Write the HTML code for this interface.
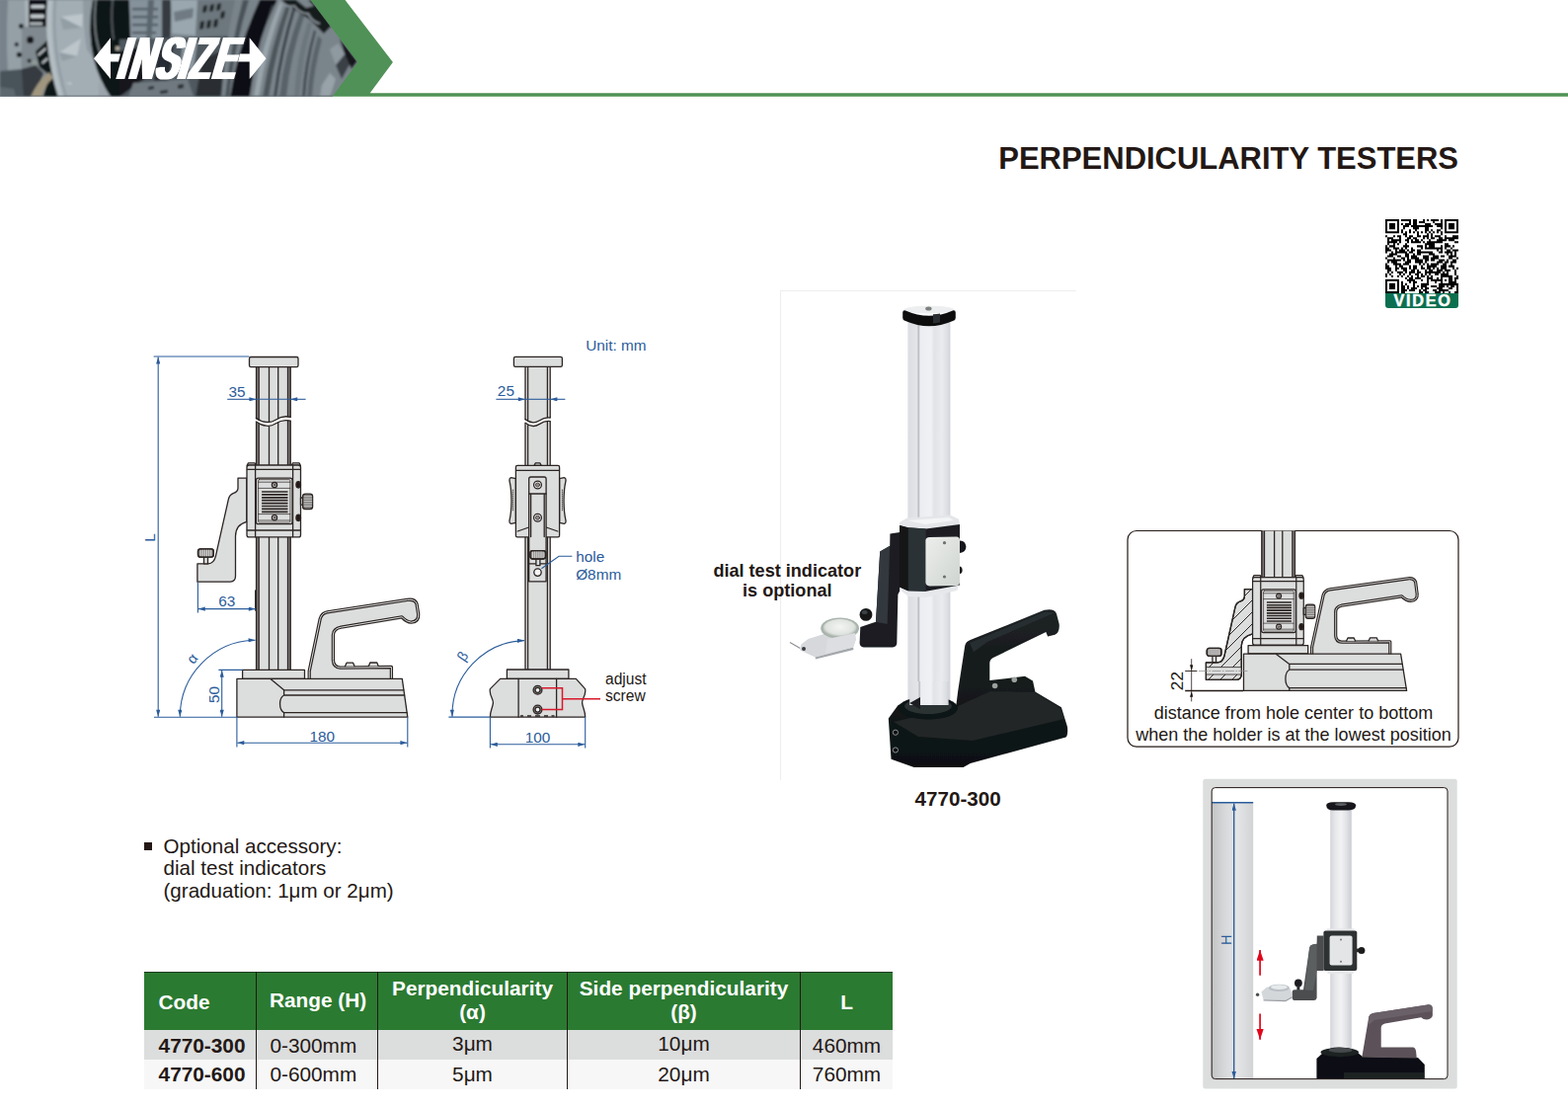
<!DOCTYPE html>
<html lang="en">
<head>
<meta charset="utf-8">
<title>INSIZE - Perpendicularity Testers</title>
<style>
html,body{margin:0;padding:0;background:#fff;}
body{width:1588px;height:1122px;position:relative;overflow:hidden;font-family:"Liberation Sans",Arial,Helvetica,sans-serif;color:#231815;}
.abs{position:absolute;}
#hdr{left:0;top:0;width:1588px;height:100px;}
#title{right:111px;top:143px;font-size:31px;font-weight:bold;line-height:36px;white-space:nowrap;letter-spacing:-0.02px;}
#bullet{left:146px;top:853.3px;width:8px;height:7.6px;background:#231815;}
#acc{left:165.5px;top:845.7px;font-size:20.6px;line-height:22.8px;white-space:nowrap;}
#tbl{left:146px;top:984px;width:758px;height:119px;}
#tbl .hd{left:0;top:0;width:758px;height:59px;background:#2b7a31;border-top:1.5px solid #1d3b1f;box-sizing:border-box;}
#tbl .r1{left:0;top:59px;width:758px;height:30px;background:#dcdddd;}
#tbl .r2{left:0;top:89px;width:758px;height:30px;background:#f7f7f7;}
#tbl .v{top:0;width:1.1px;height:119px;background:#231815;}
#tbl .t{white-space:nowrap;font-size:20.8px;line-height:23.3px;}
#tbl .h{color:#fff;font-weight:bold;}
#tbl .c{text-align:center;}
#cap{left:926.6px;top:797px;font-size:20.6px;font-weight:bold;line-height:24px;white-space:nowrap;}
#dti{left:712.3px;top:567.7px;width:170px;text-align:center;font-size:18.1px;font-weight:bold;line-height:20.7px;white-space:nowrap;}
#boxtxt{left:1143px;top:712.3px;width:334px;text-align:center;font-size:18.05px;line-height:21.2px;white-space:nowrap;}
svg{position:absolute;left:0;top:0;overflow:visible;}
svg text{font-family:"Liberation Sans",Arial,Helvetica,sans-serif;}
</style>
</head>
<body>
<!--HEADER-->
<svg id="hdr" width="1588" height="100" viewBox="0 0 1588 100">
  <defs>
    <clipPath id="hclip"><polygon points="0,0 314.3,0 362.1,63 336.4,97.7 0,97.7"/></clipPath>
    <filter id="b2" x="-20%" y="-20%" width="140%" height="140%"><feGaussianBlur stdDeviation="1.6"/></filter>
    <filter id="b1" x="-20%" y="-20%" width="140%" height="140%"><feGaussianBlur stdDeviation="0.9"/></filter>
    <filter id="fat" x="-5%" y="-5%" width="110%" height="110%"><feMorphology operator="dilate" radius="1.8 0.1"/></filter>
    <linearGradient id="hg" x1="0" y1="0" x2="1" y2="0">
      <stop offset="0" stop-color="#8d959b"/><stop offset="1" stop-color="#7d868d"/>
    </linearGradient>
  </defs>
  <!-- green chevron + rule -->
  <polygon points="300,0 349.5,0 397.9,63 374.7,94.2 1588,94.2 1588,97.7 320,97.7" fill="#4f9156"/>
  <g clip-path="url(#hclip)">
    <rect x="0" y="0" width="365" height="98" fill="#7d878e"/>
    <g filter="url(#b1)">
      <!-- far-left plate -->
      <rect x="0" y="0" width="12" height="98" fill="#77828a"/>
      <path d="M8,0 L29,0 L29,27 L24,28 Q20,50 23,98 L10,98 Q5,50 8,0 Z" fill="#949fa6"/>
      <path d="M22,27 L48,27 L50,75 L24,75 Z" fill="#7f898f"/>
      <path d="M25,0 L29,0 L29,27 L26,27 Z" fill="#a9b3b9"/>
      <rect x="29" y="0" width="20" height="27" fill="#0f1113"/>
      <rect x="31" y="5" width="14.5" height="3.6" rx="1.6" fill="#c3cace"/>
      <rect x="30.5" y="14.6" width="14.5" height="3.8" rx="1.6" fill="#c3cace"/>
      <rect x="30" y="22.6" width="13" height="2.8" rx="1.2" fill="#b4bcc0"/>
      <circle cx="21.4" cy="26.4" r="2.4" fill="#111315"/><circle cx="30.6" cy="40.4" r="3.6" fill="#15181b"/>
      <circle cx="16.8" cy="45" r="2.2" fill="#2a2f33"/><circle cx="19.4" cy="55.4" r="2.6" fill="#1b1e21"/><circle cx="29.6" cy="61.6" r="2" fill="#1b1e21"/>
      <path d="M36,52 L49,40 L53,74 L62,98 L44,98 L50,76 L40,68 Z" fill="#111315"/>
      <path d="M38,55 l8,-7 l1,2 l-8,7 z M42,63 l6,-5 l1,2 l-6,5 z" fill="#b9c0c4"/>
      <circle cx="35" cy="63.5" r="2.8" fill="#8f9a96"/>
      <path d="M0,72 L22,70 L36,82 L30,98 L0,98 Z" fill="#4a535a"/>
      <path d="M22,70 L36,66 L44,74 L34,98 L24,98 Z" fill="#353b40"/>
      <path d="M0,88 L14,90 L16,98 L0,98 Z" fill="#5d676e"/>
      <path d="M50,73 Q38,82 31,98 L42,98 Q45,86 54,79 Z" fill="#a0967f"/>
      <!-- big light disc -->
      <path d="M48,0 L94,0 Q88,30 95,60 Q100,80 112,98 L59,98 Q44,50 48,0 Z" fill="#a2adb4"/>
      <path d="M48,0 L53,0 Q49,50 64,98 L59,98 Q44,50 48,0 Z" fill="#b3bdc3"/>
      <path d="M55,0 L57,0 Q53,50 68,98 L66,98 Q51,50 55,0 Z" fill="#8e99a0"/>
      <path d="M61,17 L84,14 L83,28 Z M60,53 L82,39 L78,57 Z M66,84 L73,83 L72,86 Z" fill="#bcc6cb"/>
      <path d="M61,17 L83,28 L64,30 Z M60,53 L78,57 L63,62 Z" fill="#929da4"/>
      <path d="M84,0 L94,0 Q88,30 95,60 L88,50 Q84,25 84,0 Z" fill="#8f9aa1"/>
      <!-- black ring -->
      <path d="M94,0 L131,0 L132,38 L121,52 L121,98 L112,98 Q100,80 95,60 Q88,30 94,0 Z" fill="#111315"/>
      <path d="M97,0 Q93,36 104,60" fill="none" stroke="#7e878c" stroke-width="1.6"/>
      <path d="M114,0 Q112,20 115,40" fill="none" stroke="#4f575d" stroke-width="2"/>
      <path d="M100,82 L112,98 L100,98 Z" fill="#9aa4aa"/>
      <rect x="117" y="47" width="6" height="4" fill="#a9a49a"/>
      <!-- gear block -->
      <path d="M131,0 L166,0 L164,44 L133,40 Z" fill="#85929b"/>
      <path d="M134,8 h26 v2.2 h-26 z M134,16 h26 v2.2 h-26 z M134,24 h26 v2.2 h-26 z M134,32 h24 v2.2 h-24 z" fill="#4f5a62"/>
      <path d="M150,0 L156,0 L153,42 L148,42 Z" fill="#5b666e"/>
      <path d="M164,0 L174,0 L172,46 L164,44 Z" fill="#343b41"/>
      <path d="M173,0 L202,0 L198,36 L174,34 Z" fill="#9aa7af"/>
      <path d="M176,12 L196,8 L195,18 L177,22 Z" fill="#6f7a82"/>
      <path d="M200,0 L240,0 L230,40 L198,36 Z" fill="#6d777e"/>
      <path d="M206,6 l4,-1 l-1,7 l-4,1 z M213,5 l4,-1 l-1,7 l-4,1 z M220,4 l4,-1 l-1,7 l-4,1 z M203,22 l4,-1 l-1,8 l-4,1 z M210,21 l4,-1 l-1,8 l-4,1 z M217,20 l4,-1 l-1,8 l-4,1 z M224,12 l4,-1 l-1,7 l-4,1 z" fill="#1c2024"/>
      <!-- under logo -->
      <path d="M121,40 L240,36 L228,98 L121,98 Z" fill="#4f585f"/>
      <path d="M121,52 L150,46 L146,80 L121,98 Z" fill="#15181a"/>
      <path d="M160,50 L176,46 L170,84 L156,82 Z" fill="#272c30"/>
      <path d="M185,44 L200,42 L196,70 L182,72 Z" fill="#8d98a0"/>
      <path d="M205,60 L228,50 L226,98 L198,98 Z" fill="#2a2f33"/>
      <path d="M135,84 L190,80 L196,98 L130,98 Z" fill="#6f7980"/>
      <path d="M150,88 l6,-1 l0,3 l-6,1 z M162,92 l8,-1 l0,3 l-8,1 z M180,86 l6,-1 l0,4 l-6,1 z" fill="#2a2f33"/>
      <!-- ring 1 (grey) -->
      <path d="M238,0 L264,0 Q246,44 236,98 L224,98 Q228,44 238,0 Z" fill="#79838a"/>
      <path d="M246,0 L252,0 Q238,44 232,98 L228,98 Q234,44 246,0 Z" fill="#4a5359"/>
      <!-- black crescent -->
      <path d="M263,0 L281,0 Q266,30 262,50 Q256,76 253,98 L233,98 Q240,50 263,0 Z" fill="#0f1113"/>
      <path d="M275,6 L280,4 L268,40 L264,40 Z" fill="#3b4146"/>
      <!-- rings right -->
      <path d="M281,0 L322,0 L364,62 L338,98 L253,98 Q256,76 262,50 Q266,30 281,0 Z" fill="#7a848b"/>
      <path d="M284,0 L288,0 Q270,48 262,98 L257,98 Q264,48 284,0 Z" fill="#9aa4ab"/>
      <path d="M291,2 L296,0 Q280,48 272,98 L266,98 Q274,48 291,2 Z" fill="#4d565c"/>
      <path d="M304,12 L309,14 Q294,56 290,98 L283,98 Q288,54 304,12 Z" fill="#596269"/>
      <path d="M312,22 L316,24 Q306,60 303,98 L298,98 Q300,58 312,22 Z" fill="#6c767d"/>
      <path d="M322,36 L326,40 Q318,70 316,98 L311,98 Q313,68 322,36 Z" fill="#5a646b"/>
      <path d="M297,6 L300,7 Q286,52 280,98 L277,98 Q283,50 297,6 Z" fill="#3d454b"/>
      <path d="M318,30 L320,32 Q311,66 309,98 L306,98 Q308,64 318,30 Z" fill="#434b51"/>
      <path d="M284,0 L300,0 L310,8 L318,6 L312,0 L318,0 L336,26 L328,34 L314,20 L302,12 L290,4 Z" fill="#181b1e"/>
      <path d="M282,1 Q290,8 298,6 Q304,14 312,14 Q316,22 324,24" fill="none" stroke="#8a949b" stroke-width="1.8"/>
      <path d="M334,50 L342,44 L350,54 L340,66 Z" fill="#8f99a0"/>
      <path d="M340,66 L350,54 L358,58 L346,80 Z" fill="#3a4147"/>
      <path d="M344,38 L350,46 L362,62 L356,70 L348,52 Z" fill="#14181a"/>
      <path d="M326,86 l8,-12 l6,6 l-6,18 l-10,0 z" fill="#98a2a9"/>
    </g>
    <rect x="0" y="96.6" width="365" height="1.4" fill="#5c646a" opacity="0.6"/>
  </g>
  <!-- INSIZE logo -->
  <g fill="#fff">
    <polygon points="95,59.3 112,38.2 112,54.5 122,54.5 120,62.4 112,62.4 112,80"/>
    <polygon points="269.5,59.3 252.7,38.2 252.7,54.5 243,54.5 241,62.4 252.7,62.4 252.7,80"/>
    <g filter="url(#fat)"><text id="logo" x="30.2 52.5 99.5 140.5 160.5 202.5" y="0" transform="translate(100,80) skewX(-16.2) scale(0.56,1)" font-size="61" font-weight="bold">INSIZE</text></g>
  </g>
</svg>
<!--/HEADER-->
<div id="title" class="abs">PERPENDICULARITY TESTERS</div>
<!--QR-->
<svg id="qr" width="1588" height="330" viewBox="0 0 1588 330">
  <path d="M1403 297h74v12a3 3 0 0 1-3 3h-68a3 3 0 0 1-3-3z" fill="#0c6f50"/>
  <g transform="translate(1403,222) scale(2,2.027)" filter="url(#qrb)"><path d="M0 0h7v1h-7zM8 0h5v1h-5zM14 0h2v1h-2zM19 0h1v1h-1zM21 0h1v1h-1zM23 0h4v1h-4zM28 0h1v1h-1zM30 0h7v1h-7zM0 1h1v1h-1zM6 1h1v1h-1zM12 1h1v1h-1zM14 1h2v1h-2zM17 1h3v1h-3zM24 1h1v1h-1zM28 1h1v1h-1zM30 1h1v1h-1zM36 1h1v1h-1zM0 2h1v1h-1zM2 2h3v1h-3zM6 2h1v1h-1zM8 2h1v1h-1zM10 2h3v1h-3zM14 2h2v1h-2zM20 2h3v1h-3zM25 2h4v1h-4zM30 2h1v1h-1zM32 2h3v1h-3zM36 2h1v1h-1zM0 3h1v1h-1zM2 3h3v1h-3zM6 3h1v1h-1zM9 3h3v1h-3zM13 3h11v1h-11zM26 3h3v1h-3zM30 3h1v1h-1zM32 3h3v1h-3zM36 3h1v1h-1zM0 4h1v1h-1zM2 4h3v1h-3zM6 4h1v1h-1zM9 4h1v1h-1zM14 4h3v1h-3zM20 4h2v1h-2zM28 4h1v1h-1zM30 4h1v1h-1zM32 4h3v1h-3zM36 4h1v1h-1zM0 5h1v1h-1zM6 5h1v1h-1zM8 5h1v1h-1zM12 5h1v1h-1zM15 5h1v1h-1zM20 5h2v1h-2zM23 5h1v1h-1zM26 5h2v1h-2zM30 5h1v1h-1zM36 5h1v1h-1zM0 6h7v1h-7zM8 6h1v1h-1zM10 6h1v1h-1zM12 6h1v1h-1zM14 6h1v1h-1zM16 6h1v1h-1zM18 6h1v1h-1zM20 6h1v1h-1zM22 6h1v1h-1zM24 6h1v1h-1zM26 6h1v1h-1zM28 6h1v1h-1zM30 6h7v1h-7zM9 7h2v1h-2zM16 7h1v1h-1zM21 7h1v1h-1zM23 7h1v1h-1zM28 7h1v1h-1zM0 8h1v1h-1zM4 8h1v1h-1zM6 8h2v1h-2zM10 8h1v1h-1zM12 8h2v1h-2zM16 8h2v1h-2zM19 8h3v1h-3zM23 8h1v1h-1zM25 8h3v1h-3zM30 8h1v1h-1zM34 8h3v1h-3zM1 9h3v1h-3zM7 9h1v1h-1zM11 9h2v1h-2zM14 9h2v1h-2zM19 9h1v1h-1zM21 9h1v1h-1zM23 9h2v1h-2zM27 9h2v1h-2zM30 9h7v1h-7zM1 10h1v1h-1zM3 10h5v1h-5zM10 10h2v1h-2zM13 10h1v1h-1zM15 10h2v1h-2zM18 10h1v1h-1zM22 10h1v1h-1zM26 10h5v1h-5zM32 10h3v1h-3zM1 11h5v1h-5zM7 11h1v1h-1zM11 11h1v1h-1zM13 11h5v1h-5zM19 11h1v1h-1zM21 11h8v1h-8zM35 11h2v1h-2zM1 12h1v1h-1zM4 12h1v1h-1zM6 12h1v1h-1zM10 12h1v1h-1zM20 12h5v1h-5zM30 12h2v1h-2zM0 13h1v1h-1zM2 13h3v1h-3zM9 13h3v1h-3zM16 13h3v1h-3zM20 13h1v1h-1zM22 13h3v1h-3zM28 13h1v1h-1zM30 13h3v1h-3zM34 13h1v1h-1zM0 14h2v1h-2zM4 14h3v1h-3zM8 14h1v1h-1zM10 14h1v1h-1zM13 14h1v1h-1zM18 14h1v1h-1zM20 14h9v1h-9zM30 14h1v1h-1zM33 14h1v1h-1zM0 15h3v1h-3zM5 15h1v1h-1zM7 15h3v1h-3zM11 15h1v1h-1zM13 15h2v1h-2zM16 15h2v1h-2zM26 15h1v1h-1zM28 15h1v1h-1zM31 15h2v1h-2zM34 15h3v1h-3zM0 16h1v1h-1zM3 16h1v1h-1zM5 16h6v1h-6zM12 16h2v1h-2zM16 16h8v1h-8zM27 16h2v1h-2zM30 16h4v1h-4zM35 16h1v1h-1zM2 17h4v1h-4zM10 17h2v1h-2zM14 17h1v1h-1zM16 17h2v1h-2zM22 17h3v1h-3zM31 17h1v1h-1zM33 17h1v1h-1zM35 17h1v1h-1zM1 18h3v1h-3zM6 18h2v1h-2zM10 18h2v1h-2zM13 18h3v1h-3zM19 18h3v1h-3zM24 18h3v1h-3zM28 18h2v1h-2zM32 18h4v1h-4zM0 19h1v1h-1zM4 19h1v1h-1zM8 19h2v1h-2zM11 19h1v1h-1zM13 19h4v1h-4zM19 19h3v1h-3zM23 19h4v1h-4zM32 19h2v1h-2zM36 19h1v1h-1zM1 20h7v1h-7zM9 20h1v1h-1zM11 20h2v1h-2zM15 20h4v1h-4zM20 20h2v1h-2zM23 20h2v1h-2zM27 20h3v1h-3zM31 20h1v1h-1zM34 20h2v1h-2zM1 21h1v1h-1zM3 21h3v1h-3zM10 21h3v1h-3zM15 21h4v1h-4zM20 21h1v1h-1zM26 21h3v1h-3zM30 21h2v1h-2zM33 21h3v1h-3zM0 22h1v1h-1zM4 22h4v1h-4zM9 22h3v1h-3zM17 22h1v1h-1zM19 22h1v1h-1zM21 22h1v1h-1zM23 22h4v1h-4zM29 22h2v1h-2zM33 22h1v1h-1zM0 23h2v1h-2zM5 23h1v1h-1zM7 23h2v1h-2zM12 23h1v1h-1zM14 23h2v1h-2zM18 23h1v1h-1zM21 23h5v1h-5zM28 23h3v1h-3zM32 23h3v1h-3zM0 24h3v1h-3zM5 24h2v1h-2zM8 24h3v1h-3zM12 24h1v1h-1zM14 24h2v1h-2zM18 24h2v1h-2zM21 24h2v1h-2zM24 24h1v1h-1zM26 24h1v1h-1zM28 24h3v1h-3zM34 24h1v1h-1zM36 24h1v1h-1zM1 25h2v1h-2zM5 25h1v1h-1zM9 25h2v1h-2zM13 25h2v1h-2zM16 25h1v1h-1zM20 25h1v1h-1zM22 25h2v1h-2zM26 25h3v1h-3zM30 25h3v1h-3zM35 25h1v1h-1zM1 26h1v1h-1zM3 26h1v1h-1zM6 26h3v1h-3zM10 26h1v1h-1zM12 26h3v1h-3zM16 26h2v1h-2zM20 26h8v1h-8zM29 26h1v1h-1zM31 26h1v1h-1zM35 26h1v1h-1zM0 27h1v1h-1zM2 27h1v1h-1zM7 27h1v1h-1zM9 27h1v1h-1zM12 27h1v1h-1zM15 27h2v1h-2zM18 27h1v1h-1zM20 27h1v1h-1zM22 27h1v1h-1zM25 27h2v1h-2zM28 27h4v1h-4zM35 27h1v1h-1zM0 28h1v1h-1zM3 28h1v1h-1zM6 28h1v1h-1zM8 28h1v1h-1zM11 28h1v1h-1zM13 28h1v1h-1zM16 28h1v1h-1zM18 28h2v1h-2zM21 28h1v1h-1zM23 28h1v1h-1zM28 28h6v1h-6zM36 28h1v1h-1zM10 29h1v1h-1zM12 29h2v1h-2zM15 29h3v1h-3zM21 29h3v1h-3zM26 29h1v1h-1zM28 29h1v1h-1zM32 29h2v1h-2zM35 29h2v1h-2zM0 30h7v1h-7zM11 30h4v1h-4zM18 30h1v1h-1zM21 30h1v1h-1zM23 30h6v1h-6zM30 30h1v1h-1zM32 30h2v1h-2zM35 30h1v1h-1zM0 31h1v1h-1zM6 31h1v1h-1zM8 31h1v1h-1zM12 31h1v1h-1zM14 31h2v1h-2zM21 31h1v1h-1zM25 31h1v1h-1zM28 31h1v1h-1zM32 31h4v1h-4zM0 32h1v1h-1zM2 32h3v1h-3zM6 32h1v1h-1zM8 32h1v1h-1zM10 32h1v1h-1zM14 32h1v1h-1zM18 32h4v1h-4zM27 32h10v1h-10zM0 33h1v1h-1zM2 33h3v1h-3zM6 33h1v1h-1zM8 33h2v1h-2zM11 33h1v1h-1zM14 33h1v1h-1zM16 33h1v1h-1zM18 33h3v1h-3zM23 33h3v1h-3zM27 33h3v1h-3zM31 33h1v1h-1zM33 33h2v1h-2zM36 33h1v1h-1zM0 34h1v1h-1zM2 34h3v1h-3zM6 34h1v1h-1zM8 34h2v1h-2zM11 34h1v1h-1zM13 34h3v1h-3zM18 34h1v1h-1zM20 34h2v1h-2zM26 34h3v1h-3zM32 34h2v1h-2zM36 34h1v1h-1zM0 35h1v1h-1zM6 35h1v1h-1zM8 35h3v1h-3zM12 35h3v1h-3zM17 35h1v1h-1zM19 35h2v1h-2zM24 35h2v1h-2zM27 35h5v1h-5zM36 35h1v1h-1zM0 36h7v1h-7zM8 36h2v1h-2zM17 36h2v1h-2zM20 36h2v1h-2zM25 36h3v1h-3zM29 36h1v1h-1zM32 36h1v1h-1zM35 36h2v1h-2z" fill="#000"/></g>
  <defs><filter id="qrb" x="-5%" y="-5%" width="110%" height="110%"><feGaussianBlur stdDeviation="0.22"/></filter></defs>
  <text x="1441" y="310.2" text-anchor="middle" font-size="16.2" font-weight="bold" fill="#fff" stroke="#fff" stroke-width="0.45" letter-spacing="1.7">VIDEO</text>
</svg>
<!--/QR-->
<!--DRAW-->
<svg id="draw" width="1588" height="1122" viewBox="0 0 1588 1122">
<defs>
  <marker id="ab" viewBox="0 0 10 6" refX="10" refY="3" markerWidth="8.5" markerHeight="4.2" markerUnits="userSpaceOnUse" orient="auto-start-reverse"><path d="M0,0 L10,3 L0,6 z" fill="#2b5c9b"/></marker>
  <marker id="ak" viewBox="0 0 10 6" refX="10" refY="3" markerWidth="7" markerHeight="3.4" markerUnits="userSpaceOnUse" orient="auto-start-reverse"><path d="M0,0 L10,3 L0,6 z" fill="#231815"/></marker>
  <g id="slider">
    <!-- front-view slider carriage, origin = top-left of body -->
    <path d="M1.5,0.4 h6.5 l1.2,2.6 h-9 z M46.5,0.4 h6.5 l1.3,2.6 h-9 z" />
    <rect x="0" y="2.6" width="54.5" height="72.9" rx="2.2"/>
    <path d="M0.3,6.9 H54.2 M0.3,68.6 H54.2 M8.6,2.8 V75.3 M46.6,2.8 V75.3" fill="none"/>
    <rect x="9.4" y="15.7" width="36.7" height="46.5" rx="2.2"/>
    <rect x="11.6" y="17.2" width="32.3" height="43.5" rx="1" stroke-width="0.7"/>
    <path d="M11.6,19.8 H43.9 M11.6,26 H43.9 M11.6,52.2 H43.9 M11.6,58.6 H43.9" fill="none" stroke-width="0.7"/>
    <path d="M15.1,29.6 H41.5 M15.1,32.5 H41.5 M15.1,35.4 H41.5 M15.1,38.3 H41.5 M15.1,41.2 H41.5 M15.1,44.1 H41.5 M15.1,47 H41.5 M15.1,49.9 H41.5" fill="none" stroke-width="1.7" stroke-linecap="butt"/>
    <circle cx="28" cy="22.7" r="2.6" fill="#f2f2f2"/><circle cx="28" cy="22.7" r="1.1" fill="#9a9797" stroke-width="0.6"/>
    <circle cx="28" cy="55.9" r="2.6" fill="#f2f2f2"/><circle cx="28" cy="55.9" r="1.1" fill="#9a9797" stroke-width="0.6"/>
    <ellipse cx="52.2" cy="22.4" rx="2.3" ry="3.2" fill="#231815"/>
    <ellipse cx="52.2" cy="55.9" rx="2.3" ry="3.2" fill="#231815"/>
    <rect x="54.5" y="35.6" width="3" height="7.2"/>
    <rect x="56.6" y="31.8" width="10" height="15.4" rx="2.6" fill="#7d7a79"/>
    <path d="M58.2,34.4 H65.6 M58,36.8 H65.8 M58,39.2 H65.8 M58,41.6 H65.8 M58.2,44 H65.6" fill="none" stroke="#e0e0e0" stroke-width="0.8"/>
  </g>
  <g id="knob">
    <!-- small knurled thumb screw, origin = top-left of head -->
    <rect x="6" y="7.5" width="4" height="7.6"/>
    <rect x="0" y="0" width="15.8" height="8.4" rx="2.4" fill="#8d8a89"/>
    <path d="M2.7,1.4 V7 M4.8,1 V7.4 M6.9,1 V7.4 M9,1 V7.4 M11.1,1 V7.4 M13.2,1.4 V7" fill="none" stroke="#e4e4e4" stroke-width="0.9"/>
    <rect x="0" y="0" width="15.8" height="8.4" rx="2.4" fill="none"/>
  </g>
</defs>

<!-- ================= FRONT VIEW ================= -->
<g stroke="#2b2523" stroke-width="1.3" fill="#dcdddd" stroke-linejoin="round" stroke-linecap="round">
  <!-- column -->
  <rect x="259.6" y="371" width="34.4" height="308"/>
  <rect x="259.6" y="371" width="2.6" height="308" fill="#8d8a89"/>
  <rect x="291.5" y="371" width="2.5" height="308" fill="#8d8a89"/>
  <path d="M272.5,371 V679 M281.7,371 V679" fill="none"/>
  <!-- break -->
  <path d="M257.5,423.2 C266,429.4 274,429.0 279,425.4 C285,421.4 290,421.2 296,423.2 L296,426.6 C290,424.6 285,424.8 279,428.8 C274,432.4 266,432.8 257.5,426.6 Z" fill="#fff" stroke="none"/>
  <path d="M259.4,423.2 C266,428.4 274,428.6 279,425.2 C285,421.2 290,421.2 294.2,422.4 M259.4,427.0 C266,432.2 274,432.4 279,429.0 C285,425.0 290,425.0 294.2,426.2" fill="none"/>
  <!-- cap -->
  <rect x="252.5" y="361.5" width="49.5" height="10.2" rx="1.6"/>
  <!-- foot plate -->
  <rect x="245.6" y="678.4" width="62.9" height="9" />
  <!-- handle -->
  <path id="hnd" d="M313.2,687 L313.2,679.6 L324.2,626.6 Q325.8,620.8 331.4,619.8 L412.4,607.4 Q420.4,606.4 422,611.4 L423.7,622 Q424.2,629.4 416.6,630.2 Q411.8,630 407,624.8 L345.4,635.2 Q337.6,636.6 337.4,643 L337.4,668.6 Q337.9,675.8 344.6,676.1 L396.4,675.5 L396.4,687" stroke-width="3.3"/>
  <path d="M313.2,687 L313.2,679.6 L324.2,626.6 Q325.8,620.8 331.4,619.8 L412.4,607.4 Q420.4,606.4 422,611.4 L423.7,622 Q424.2,629.4 416.6,630.2 Q411.8,630 407,624.8 L345.4,635.2 Q337.6,636.6 337.4,643 L337.4,668.6 Q337.9,675.8 344.6,676.1 L396.4,675.5 L396.4,687" stroke="#dcdddd" stroke-width="1" fill="none"/>
  <path d="M349.6,674.6 l1.4,-3.4 h6.6 l1.4,3.4 M373.4,674.4 l1.4,-3.4 h7 l1.4,3.4" />
  <!-- base -->
  <path d="M239.9,687.4 H407.3 L412.8,726.2 H239.9 Z"/>
  <path d="M274,687.6 L287.6,698.8 H408.8 M287.6,704 H409.6 M287.6,721.6 H412 M287.6,721.6 V726 M287.6,698.8 V704 M287.6,704 C282.2,707 282.2,718.4 287.6,721.6" fill="none"/>
  <!-- bracket arm -->
  <path d="M249.8,484.1 H241 V494.6 Q240.6,498 236.6,499.4 Q232.4,501 231.4,505.4 L218.4,563.4 Q216.6,570.6 211,570.8 H199.9 V589.2 H233.4 Q238.4,588.8 238.5,583.6 V543 Q238.6,531.4 249.8,528.4 Z"/>
  <use href="#knob" x="200.5" y="555.8"/>
  <!-- slider -->
  <use href="#slider" x="250" y="468.4"/>
  <path d="M258.7,618 V598" fill="none" stroke-width="1.3"/>
</g>
<!-- front view dimensions -->
<g stroke="#2b5c9b" stroke-width="1.1" fill="none">
  <path d="M155.6,361 H252.4 M156,726.2 H239.9 M239.9,726.2 V756.6 M412.8,726.2 V756.6 M221.4,678.4 H245.6 M200.4,589.4 V620.4"/>
  <path d="M160.2,361.4 V725.8" marker-start="url(#ab)" marker-end="url(#ab)"/>
  <path d="M240.3,752.2 H412.4" marker-start="url(#ab)" marker-end="url(#ab)"/>
  <path d="M224.7,678.8 V725.8" marker-start="url(#ab)" marker-end="url(#ab)"/>
  <path d="M200.8,616.6 H258.8" marker-start="url(#ab)" marker-end="url(#ab)"/>
  <path d="M230.2,404.3 H259.4" marker-end="url(#ab)"/>
  <path d="M309.6,404.3 H294.2" marker-end="url(#ab)"/>
  <path d="M259.4,404.3 H294.2"/>
  <path d="M182.3,725.8 A77.6,77.6 0 0 1 258.6,648.2" marker-start="url(#ab)" marker-end="url(#ab)"/>
</g>
<g fill="#2b5c9b" font-size="15.35" text-anchor="middle">
  <text x="240" y="401.6">35</text>
  <text x="229.8" y="614.4">63</text>
  <text x="326.2" y="750.6">180</text>
  <text transform="translate(221.8,703.4) rotate(-90)">50</text>
  <text transform="translate(157.2,544.4) rotate(-90)">L</text>
  <text transform="translate(198.6,670) rotate(-52)" font-size="14.5">α</text>
</g>

<!-- ================= SIDE VIEW ================= -->
<g stroke="#2b2523" stroke-width="1.3" fill="#dcdddd" stroke-linejoin="round" stroke-linecap="round">
  <rect x="532" y="371" width="25.2" height="307.4"/>
  <path d="M534.6,371 V678 M554.4,371 V678" fill="none"/>
  <!-- break -->
  <path d="M530.5,424.4 C537,429.2 542,428.8 546,426.2 C551,422.8 555,422.6 559,423.4 L559,426.8 C555,426.0 551,426.2 546,429.6 C542,432.2 537,432.6 530.5,427.8 Z" fill="#fff" stroke="none"/>
  <path d="M532,424.6 C537,428.6 542,428.6 546,426.0 C551,422.8 554,422.4 557.2,423.0 M532,428.2 C537,432.2 542,432.2 546,429.6 C551,426.4 554,426.0 557.2,426.6" fill="none"/>
  <rect x="520.4" y="361.3" width="49" height="10.1" rx="1.6"/>
  <!-- foot plate -->
  <rect x="513.4" y="678" width="62.5" height="9.4"/>
  <!-- base -->
  <path d="M506.6,687.4 H583.4 L592.6,697.6 C594,703 589.4,708 589.6,711.6 C589.8,716 592.8,720 592.7,726.1 H496.4 C496.3,720 499.2,716 499.4,711.6 C499.6,708 495,703 496.4,697.6 Z"/>
  <path d="M525.1,687.4 V726 M563.6,687.4 V726" fill="none"/>
  <path d="M527,725 h3 M534,725 h4 M542,725 h5 M551,725 h4 M558.5,725 h3" fill="none" stroke-width="1.4" stroke-linecap="butt"/>
  <circle cx="544.5" cy="698.8" r="4.4" fill="#8d8a89"/><circle cx="544.5" cy="698.8" r="2.5" fill="#efefef"/>
  <circle cx="544.5" cy="718.6" r="4.4" fill="#8d8a89"/><circle cx="544.5" cy="718.6" r="2.5" fill="#efefef"/>
  <!-- slider side -->
  <path d="M541,471.4 l1.4,-2.6 h4.4 l1.4,2.6 z"/>
  <path d="M522.4,484.6 L517.6,483.6 Q515.6,484 516,487 C518.6,498 518.6,516 516,527 Q515.6,530 517.6,530.4 L522.4,529.4 Z"/>
  <path d="M566.6,484.6 L571.4,483.6 Q573.4,484 573,487 C570.4,498 570.4,516 573,527 Q573.4,530 571.4,530.4 L566.6,529.4 Z"/>
  <path d="M519.6,496 V518 M569.4,496 V518" fill="none" stroke-width="0.8" stroke-dasharray="0.8 1.2"/>
  <rect x="522.4" y="471.4" width="44.2" height="72.5" rx="1.6"/>
  <path d="M522.6,476.4 H566.4 M524.2,538 L535.6,534 M564.8,538 L553.2,534" fill="none"/>
  <!-- inner bar -->
  <path d="M535.7,588.8 V485 Q535.7,483 537.7,483 H551.1 Q553.1,483 553.1,485 V588.8 Z"/>
  <path d="M535.7,500 H553.1 M535.7,570.8 H553.1 M537.6,500 V543.6 M551.2,500 V543.6" fill="none"/>
  <circle cx="544.5" cy="491" r="3.9" fill="#f4f4f4"/><circle cx="544.5" cy="491" r="2.1" fill="#8d8a89" stroke-width="0.7"/>
  <circle cx="544.5" cy="524.3" r="3.9" fill="#f4f4f4"/><circle cx="544.5" cy="524.3" r="2.1" fill="#8d8a89" stroke-width="0.7"/>
  <use href="#knob" x="536.9" y="557.6" transform="translate(0,0)"/>
  <circle cx="544.5" cy="579.6" r="3.7" fill="#f6f6f6"/>
</g>
<!-- side view dimensions -->
<g stroke="#2b5c9b" stroke-width="1.1" fill="none">
  <path d="M454.4,726.1 H496.4 M496.4,726.1 V757.4 M592.7,726.1 V757.4"/>
  <path d="M496.8,753.8 H592.3" marker-start="url(#ab)" marker-end="url(#ab)"/>
  <path d="M502.4,404.3 H531.8" marker-end="url(#ab)"/>
  <path d="M572.4,404.3 H557.4" marker-end="url(#ab)"/>
  <path d="M531.8,404.3 H557.4"/>
  <path d="M458,725.7 A75.4,75.4 0 0 1 531,648.6" marker-start="url(#ab)" marker-end="url(#ab)"/>
  <path d="M548.4,575.8 L566,563.2 H579.4"/>
</g>
<g fill="#2b5c9b" font-size="15.35">
  <text x="512.4" y="401.4" text-anchor="middle">25</text>
  <text x="544.5" y="752" text-anchor="middle">100</text>
  <text x="593.2" y="355" font-size="15.35">Unit: mm</text>
  <text x="583.2" y="569.2">hole</text>
  <text x="583.2" y="586.6">Ø8mm</text>
  <text transform="translate(472.6,667.4) rotate(-56)" font-size="14.5" text-anchor="middle">β</text>
</g>
<g stroke="#d7182a" stroke-width="1.5" fill="none">
  <path d="M548.6,696.8 H569.5 V718.4 H548.6 M569.5,707.8 H608"/>
</g>
<g fill="#231815" font-size="15.6">
  <text x="613" y="692.8">adjust</text>
  <text x="613" y="709.8">screw</text>
</g>
</svg>
<!--/DRAW-->
<!--PHOTO-->
<svg id="photo" width="1588" height="1122" viewBox="0 0 1588 1122">
<defs>
  <filter id="pb" x="-5%" y="-5%" width="110%" height="110%"><feGaussianBlur stdDeviation="0.55"/></filter>
  <linearGradient id="colg" x1="0" y1="0" x2="1" y2="0">
    <stop offset="0" stop-color="#dcdde2"/><stop offset="0.22" stop-color="#e4e5e9"/>
    <stop offset="0.25" stop-color="#b2b4bc"/><stop offset="0.29" stop-color="#ecedf0"/>
    <stop offset="0.55" stop-color="#f0f1f4"/><stop offset="0.62" stop-color="#e2e3e8"/>
    <stop offset="0.8" stop-color="#eaebee"/><stop offset="0.93" stop-color="#dedfe4"/><stop offset="1" stop-color="#d0d2d8"/>
  </linearGradient>
  <linearGradient id="basg" x1="0" y1="0" x2="0" y2="1">
    <stop offset="0" stop-color="#1d2223"/><stop offset="0.55" stop-color="#14191a"/><stop offset="1" stop-color="#0c1011"/>
  </linearGradient>
  <linearGradient id="plg" x1="0" y1="0" x2="1" y2="1">
    <stop offset="0" stop-color="#eceeec"/><stop offset="1" stop-color="#cfd4d0"/>
  </linearGradient>
  <radialGradient id="dialg" cx="0.5" cy="0.45" r="0.6">
    <stop offset="0" stop-color="#f4f5f3"/><stop offset="0.7" stop-color="#dfe3df"/><stop offset="1" stop-color="#9aa39d"/>
  </radialGradient>
</defs>
<path d="M790.5,790 V294.5 H1090" fill="none" stroke="#eeeeee" stroke-width="1.2"/>
<g filter="url(#pb)">
  <!-- column -->
  <rect x="919.4" y="322" width="43" height="394" fill="url(#colg)"/>
  <!-- top cap -->
  <ellipse cx="941" cy="313.6" rx="25.6" ry="3.8" fill="#eceeef"/>
  <path d="M914.2,316.6 Q914.2,313.8 917,314.4 A60,60 0 0 0 965,314.4 Q967.8,313.8 967.8,316.6 L967.8,322 Q967.8,324.4 965,325 A60,60 0 0 1 917,325 Q914.2,324.4 914.2,322 Z" fill="#0e1011"/>
  <path d="M945,318.2 Q949,318 952,317.4 L952,326.4 Q949,327 945,327.2 Z" fill="#2a2e31"/>
  <ellipse cx="940.4" cy="312.6" rx="3.2" ry="2" fill="#7d827f"/>
  <!-- base + handle silhouette -->
  <path d="M899.8,727.5 L909.6,714.1 L922.1,708.7 L961.3,708.7 L968.4,714.1 L970.2,699.8 L977.3,653.5 Q978.6,649.6 982.7,648.1 L1057.6,617.8 Q1067.6,615.6 1070,621.4 L1072.7,632.1 Q1073.4,640.4 1068.3,642.8 L1061.1,644.6 L1059.3,640.1 L1005.9,666 Q1002.4,668 1002.3,671.3 L1002.3,689.1 L1038,684.7 L1046,689.4 L1048.4,700.6 L1074.9,716.2 L1081,736 Q1081.8,744.6 1079.6,746.4 L982.7,773 L975.6,777 L925.7,777 L902.5,768.8 Z" fill="url(#basg)"/>
  <!-- base highlights -->
  <path d="M1003,700 L1048,701 L1074,717 L1078,728 L985,750 L930,746 L905,731 L968,716 Z" fill="#22282a" opacity="0.9"/>
  <path d="M982,651 L1058,619.6 L1068,620.6 L1000,650 L986,660 Z" fill="#2a3032" opacity="0.9"/>
  <ellipse cx="940" cy="717" rx="30" ry="11.5" fill="#0e1213"/>
  <ellipse cx="940" cy="715" rx="24" ry="8" fill="#2a3033"/>
  <rect x="921.2" y="690" width="39.4" height="24" fill="url(#colg)"/>
  <path d="M921.2,712 L932,718 L932,706 Z" fill="#1a1e20"/>
  <circle cx="906.9" cy="741.7" r="2.6" fill="#0a0c0d" stroke="#8d9496" stroke-width="1"/>
  <circle cx="906.9" cy="759.5" r="2.6" fill="#0a0c0d" stroke="#8d9496" stroke-width="1"/>
  <circle cx="1007.6" cy="694.5" r="2.8" fill="#9aa09c"/>
  <circle cx="1027.3" cy="688.2" r="2.8" fill="#9aa09c"/>
  <!-- slider -->
  <path d="M911,529 L918.5,524.6 L962.4,521.6 L971,525.8 L972,531.4 L937.8,536 L919.6,534.6 L911,532.4 Z" fill="#e4e6e9"/>
  <path d="M919,527 L961,524 L966,527 L937,531 Z" fill="#f4f5f6"/>
  <path d="M913,594 L919.6,597.6 L937.8,598.4 L971,592.4 L969.4,598 L938,605 L920,604 L913.4,599 Z" fill="#e6e8eb"/>
  <path d="M911,532 L919.6,534.3 L937.8,535.6 L972,531 L972,592.6 L937.8,598.8 L919.6,598.2 L911,594.4 Z" fill="#1a1e21"/>
  <path d="M919.6,534.3 L937.8,535.6 L937.8,598.8 L919.6,598.2 Z" fill="#2a3036"/>
  <path d="M911,532 L919.6,534.3 L919.6,598.2 L911,594.4 Z" fill="#121517"/>
  <path d="M941.4,543.9 L968.6,543.4 Q972,543.6 972,547 L972,589.4 Q972,592.6 968.6,593 L941.4,593.4 Q937.4,593.2 937.4,589.6 L937.4,547.6 Q937.4,544 941.4,543.9 Z" fill="url(#plg)"/>
  <circle cx="956.5" cy="549.7" r="1.6" fill="#6c726e"/><circle cx="956.5" cy="584" r="1.6" fill="#6c726e"/>
  <path d="M972,547.4 Q977.6,547 978.4,553.6 Q978.4,559.6 972,560 Z" fill="#15181a"/>
  <path d="M972,573.6 Q974.6,574 974.6,577.4 Q974.6,580.6 972,581 Z" fill="#15181a"/>
  <!-- arm -->
  <path d="M901.4,540.4 L911.2,539 L911.2,598.4 L909.4,602 L908.3,651.6 Q908,655.2 904,655.4 L874.6,655.4 Q870.6,655 870.6,651.1 L871.3,635 L883,631 L887,629.8 L891.2,558.5 L901.2,552.8 Z" fill="#1b1f22"/>
  <path d="M891.2,558.5 L901.2,552.8 L898.6,632 L887,629.8 Z" fill="#33383c"/>
  <circle cx="877" cy="622.4" r="6.4" fill="#141719"/>
  <ellipse cx="875.6" cy="620" rx="3" ry="2" fill="#3a4044"/>
  <!-- indicator -->
  <path d="M800,650.6 L810.4,656.6" stroke="#8c9094" stroke-width="1.2" fill="none"/>
  <path d="M818.5,646.9 L837,641.2 L867,646.9 L864.1,655.4 L825.6,665.4 L810,658.3 L811.4,652.6 Z" fill="#d6d8db"/>
  <path d="M825.6,665.4 L864.1,655.4 L864.4,658 L826,667.6 Z" fill="#a3a6aa"/>
  <ellipse cx="850.6" cy="636.2" rx="19.4" ry="10.8" fill="#a9b4ac"/>
  <ellipse cx="850.6" cy="635.8" rx="17" ry="9" fill="url(#dialg)"/>
  <path d="M838,647 L866,641 L867,646.9 L864.1,655.4 L836,662 Z" fill="#dcdee1"/>
  <circle cx="814" cy="657" r="2" fill="#3a3e42"/>
</g>
</svg>
<!--/PHOTO-->
<div id="dti" class="abs">dial test indicator<br>is optional</div>
<div id="cap" class="abs">4770-300</div>
<!--INSET-->
<svg id="inset" width="1588" height="1122" viewBox="0 0 1588 1122">
<defs>
  <clipPath id="brk"><path id="brkp" d="M1268.6,596.7 H1260.4 V604.4 Q1260,607.6 1256.4,608.8 Q1252,610.2 1251,614.6 L1240,664 Q1238.4,670.7 1233,670.9 H1221.4 V688.3 H1252.6 Q1257.2,688 1257.3,683 V654 Q1257.4,644.6 1268.6,641.8 Z"/></clipPath>
  <clipPath id="inclip"><rect x="1142" y="537.5" width="335" height="218.7" rx="9"/></clipPath>
</defs>
<rect x="1142" y="537.5" width="335" height="218.7" rx="9" fill="#fff" stroke="#231815" stroke-width="1.2"/>
<g stroke="#2b2523" stroke-width="1.3" fill="#dcdddd" stroke-linejoin="round" stroke-linecap="round" clip-path="url(#inclip)">
  <!-- column -->
  <rect x="1278" y="530" width="33.4" height="124"/>
  <rect x="1278" y="530" width="2.5" height="124" fill="#8d8a89"/>
  <rect x="1308.9" y="530" width="2.5" height="124" fill="#8d8a89"/>
  <path d="M1290.6,530 V654 M1298.8,530 V654" fill="none"/>
  <!-- foot plate -->
  <rect x="1264.1" y="653.6" width="60.6" height="8.4"/>
  <!-- handle -->
  <path d="M1328.6,662 L1328.6,655.4 L1340.2,602.4 Q1341.8,597.6 1347,596.8 L1426,585.8 Q1432,585.2 1433.6,589.4 L1435.2,601.6 Q1435.6,608 1428.8,608.4 Q1424,608.2 1419.6,603.8 L1358.6,613.2 Q1352.8,614.4 1352.7,619.4 L1352.7,644 Q1353.2,649.8 1358.8,650.2 L1407.8,649.8 L1407.8,662" stroke-width="3.2"/>
  <path d="M1328.6,662 L1328.6,655.4 L1340.2,602.4 Q1341.8,597.6 1347,596.8 L1426,585.8 Q1432,585.2 1433.6,589.4 L1435.2,601.6 Q1435.6,608 1428.8,608.4 Q1424,608.2 1419.6,603.8 L1358.6,613.2 Q1352.8,614.4 1352.7,619.4 L1352.7,644 Q1353.2,649.8 1358.8,650.2 L1407.8,649.8 L1407.8,662" stroke="#dcdddd" stroke-width="0.9" fill="none"/>
  <path d="M1363.6,649 l1.4,-3 h6.2 l1.4,3 M1386.2,648.8 l1.4,-3 h6.6 l1.4,3"/>
  <!-- base -->
  <path d="M1259.5,662.2 H1418.6 L1424.6,699.4 H1259.5 Z"/>
  <path d="M1292.6,662.4 L1305.8,672.4 H1420 M1305.8,678.2 H1421 M1305.8,696.6 H1424 M1305.8,696.6 V699.2 M1305.8,672.4 V678.2 M1305.8,678.2 C1300.6,681 1300.6,693.6 1305.8,696.6" fill="none"/>
  <!-- bracket -->
  <use href="#brkp"/>
  <g clip-path="url(#brk)" fill="none" stroke-width="1">
    <path d="M1210,690 L1280,620 M1210,702 L1280,632 M1210,714 L1280,644 M1210,678 L1280,608 M1210,666 L1280,596 M1210,654 L1280,584 M1210,726 L1280,656 M1210,738 L1280,668"/>
    <rect x="1222" y="675.6" width="36" height="7.4" fill="#dcdddd" stroke="none"/>
    <path d="M1222,675.6 H1257 M1222,683 H1257" stroke-width="0.8"/>
  </g>
  <use href="#brkp" fill="none"/>
  <use href="#knob" x="1222.2" y="656.4" transform="translate(1222.2,656.4) scale(0.94) translate(-1222.2,-656.4)"/>
  <!-- slider -->
  <use href="#slider" transform="translate(1268.6,582.2) scale(0.948,0.938)"/>
</g>
<g stroke="#231815" fill="none">
  <path d="M1200.2,699.5 H1259" stroke-width="1.6"/>
  <path d="M1200.2,679.5 H1212.4" stroke-width="0.9"/>
  <path d="M1214,679.5 H1263.6" stroke="#8d8a89" stroke-width="0.7" stroke-dasharray="9 1.5 1.5 1.5"/>
  <path d="M1206.7,679.5 V699" stroke-width="0.8"/>
  <path d="M1206.7,667.2 V679" stroke-width="0.8" marker-end="url(#ak)"/>
  <path d="M1206.7,710.4 V700.2" stroke-width="0.8" marker-end="url(#ak)"/>
</g>
<text transform="translate(1197.8,689.6) rotate(-90)" font-size="17.2" text-anchor="middle" fill="#231815">22</text>
</svg>
<!--/INSET-->
<div id="boxtxt" class="abs">distance from hole center to bottom<br>when the holder is at the lowest position</div>
<!--USE-->
<svg id="use" width="1588" height="1122" viewBox="0 0 1588 1122">
<defs>
  <clipPath id="uclip"><rect x="1227.2" y="797.6" width="238.8" height="295" rx="3.5"/></clipPath>
  <linearGradient id="barg" x1="0" y1="0" x2="1" y2="0">
    <stop offset="0" stop-color="#c2c3c4"/><stop offset="0.3" stop-color="#d6d7d8"/><stop offset="0.62" stop-color="#e4e5e6"/><stop offset="1" stop-color="#d2d3d4"/>
  </linearGradient>
  <linearGradient id="ucol" x1="0" y1="0" x2="1" y2="0">
    <stop offset="0" stop-color="#d3d5d9"/><stop offset="0.25" stop-color="#e8e9ec"/><stop offset="0.5" stop-color="#f2f2f4"/><stop offset="0.75" stop-color="#e2e3e6"/><stop offset="1" stop-color="#cbcdd2"/>
  </linearGradient>
  <marker id="ar" viewBox="0 0 12 8" refX="12" refY="4" markerWidth="11.5" markerHeight="7.2" markerUnits="userSpaceOnUse" orient="auto"><path d="M0,0 L12,4 L0,8 z" fill="#e0061c"/></marker>
  <marker id="ab2" viewBox="0 0 10 6" refX="10" refY="3" markerWidth="9.5" markerHeight="4.4" markerUnits="userSpaceOnUse" orient="auto-start-reverse"><path d="M0,0 L10,3 L0,6 z" fill="#2b5c9b"/></marker>
</defs>
<rect x="1218.3" y="788.8" width="257.4" height="313.8" rx="2.5" fill="#dcdddd"/>
<rect x="1227.2" y="797.6" width="238.8" height="295" rx="3.5" fill="#fff"/>
<g clip-path="url(#uclip)">
  <rect x="1227" y="812.6" width="42.2" height="282" fill="url(#barg)"/>
  <g filter="url(#pb)">
    <!-- column -->
    <rect x="1347.2" y="818" width="21.6" height="246" fill="url(#ucol)"/>
    <path d="M1343.2,815.4 Q1343.4,812.4 1350,812.2 H1366 Q1373,812.4 1373.2,815.6 Q1373,820.4 1366,820.6 H1350 Q1343.4,820.4 1343.2,815.4 Z" fill="#17191b"/>
    <ellipse cx="1358" cy="814.6" rx="6" ry="1.4" fill="#5d6164"/>
    <!-- base -->
    <path d="M1333.4,1100 V1072 L1340,1066 Q1345,1060.4 1356,1060.4 Q1370,1060.4 1375.6,1066.4 L1380,1070 L1436,1071 L1442.8,1078 V1100 Z" fill="#0f1112"/>
    <ellipse cx="1356.8" cy="1065.6" rx="19.2" ry="4.6" fill="#1d2022"/>
    <ellipse cx="1357.6" cy="1063.4" rx="12" ry="2.6" fill="#44484b"/>
    <path d="M1361,1086 H1442 V1093 H1361 Z" fill="#1e2124"/>
    <!-- handle -->
    <path d="M1379.3,1070.4 L1386.3,1029.4 Q1387.2,1026.6 1390.4,1026 L1445.6,1017.4 Q1450,1017 1450.7,1020.4 L1450.9,1028 Q1450.4,1031.6 1445,1032.6 Q1441.4,1032.6 1439.2,1030.2 L1402.6,1036.6 Q1398.9,1037.6 1398.7,1041 L1398.7,1060.5 L1431.4,1060.5 Q1433.6,1061 1434,1064 L1434.8,1071.4 Z" fill="#5b5159"/>
    <path d="M1386.3,1029.4 Q1387.2,1026.6 1390.4,1026 L1445.6,1017.4 Q1450,1017 1450.7,1020.4 L1450.8,1024 L1392,1033 L1386,1038 Z" fill="#6a6068"/>
    <!-- slider -->
    <rect x="1344" y="940.4" width="27.4" height="3.6" fill="#e8e9eb"/>
    <rect x="1340.4" y="942.4" width="33.9" height="40.6" rx="2" fill="#2e3133"/>
    <rect x="1344.6" y="983" width="26" height="3" fill="#e8e9eb"/>
    <rect x="1346.6" y="947.6" width="23" height="30" rx="2" fill="#e3e5e6"/>
    <circle cx="1358" cy="951.6" r="1" fill="#777"/><circle cx="1358" cy="973.8" r="1" fill="#777"/>
    <rect x="1374" y="960.6" width="2.6" height="3.6" fill="#2a2c2e"/>
    <circle cx="1378.9" cy="962.4" r="3.5" fill="#1b1d1f"/>
    <!-- arm -->
    <path d="M1333.8,947.6 H1340.6 V983 H1333.6 V1010.6 Q1333.4,1012.9 1331,1012.9 H1310.6 Q1308.7,1012.7 1308.7,1010.6 V1004.2 Q1308.9,1002.5 1311,1002.3 H1320 L1326.2,959.4 Q1326.8,957 1329.4,956.6 L1333.6,955.8 Z" fill="#4b4d50"/>
    <path d="M1326.2,959.4 Q1326.8,957 1329.4,956.6 L1333.6,955.8 V983 L1330,1003 L1321.4,1002.4 Z" fill="#5c5e61"/>
    <circle cx="1314.9" cy="995.4" r="3.9" fill="#1c1e20"/>
    <rect x="1313.4" y="998" width="3" height="4.6" fill="#2a2c2e"/>
    <!-- indicator -->
    <path d="M1277.4,1004.4 L1283,999.6 L1307,1001.2 L1308.6,1009 L1302,1012.8 L1279.6,1012.2 Z" fill="#d4d7da"/>
    <ellipse cx="1295.4" cy="1000.4" rx="10.6" ry="3.6" fill="#b9c0c6"/>
    <ellipse cx="1295.4" cy="999.6" rx="8.4" ry="2.4" fill="#e7eaec"/>
    <path d="M1279.6,1012.2 L1302,1012.8 L1308.6,1009 L1308.6,1010.6 L1302,1014.2 L1279.6,1013.6 Z" fill="#9b9fa3"/>
    <circle cx="1273.6" cy="1007.2" r="1.7" fill="#4a4c4e"/>
  </g>
  <!-- annotations -->
  <path d="M1227,812.7 H1269.2" stroke="#2b5c9b" stroke-width="1.5" fill="none"/>
  <path d="M1249.7,813.4 V1092.4" stroke="#2b5c9b" stroke-width="1.35" fill="none" marker-start="url(#ab2)" marker-end="url(#ab2)"/>
  <text transform="translate(1247.4,951.8) rotate(-90)" font-size="14.6" text-anchor="middle" fill="#2b5c9b">H</text>
  <path d="M1276.1,987.8 V962" stroke="#e0061c" stroke-width="1.7" fill="none" marker-end="url(#ar)"/>
  <path d="M1276.1,1026.6 V1052.8" stroke="#e0061c" stroke-width="1.7" fill="none" marker-end="url(#ar)"/>
</g>
<rect x="1227.2" y="797.6" width="238.8" height="295" rx="3.5" fill="none" stroke="#231815" stroke-width="1"/>
</svg>
<!--/USE-->
<div id="bullet" class="abs"></div>
<div id="acc" class="abs">Optional accessory:<br>dial test indicators<br>(graduation: 1μm or 2μm)</div>
<div id="tbl" class="abs">
  <div class="abs hd"></div><div class="abs r1"></div><div class="abs r2"></div>
  <div class="abs v" style="left:113.2px"></div>
  <div class="abs v" style="left:236.1px"></div>
  <div class="abs v" style="left:427.7px"></div>
  <div class="abs v" style="left:663.7px"></div>
  <div class="abs t h" style="left:14.5px;top:18.6px">Code</div>
  <div class="abs t h" style="left:127px;top:16.6px">Range (H)</div>
  <div class="abs t h c" style="left:237px;width:191px;top:5.3px">Perpendicularity<br>(α)</div>
  <div class="abs t h c" style="left:429px;width:235px;top:5.3px">Side perpendicularity<br>(β)</div>
  <div class="abs t h c" style="left:665px;width:93px;top:18.6px">L</div>
  <div class="abs t" style="left:14.6px;top:63px;font-weight:bold">4770-300</div>
  <div class="abs t" style="left:127.4px;top:63px">0-300mm</div>
  <div class="abs t c" style="left:237px;width:191px;top:60.9px">3μm</div>
  <div class="abs t c" style="left:429px;width:235px;top:60.9px">10μm</div>
  <div class="abs t c" style="left:665px;width:93px;top:63px">460mm</div>
  <div class="abs t" style="left:14.6px;top:92.1px;font-weight:bold">4770-600</div>
  <div class="abs t" style="left:127.4px;top:92.1px">0-600mm</div>
  <div class="abs t c" style="left:237px;width:191px;top:91.6px">5μm</div>
  <div class="abs t c" style="left:429px;width:235px;top:91.6px">20μm</div>
  <div class="abs t c" style="left:665px;width:93px;top:92.1px">760mm</div>
</div>
</body>
</html>
